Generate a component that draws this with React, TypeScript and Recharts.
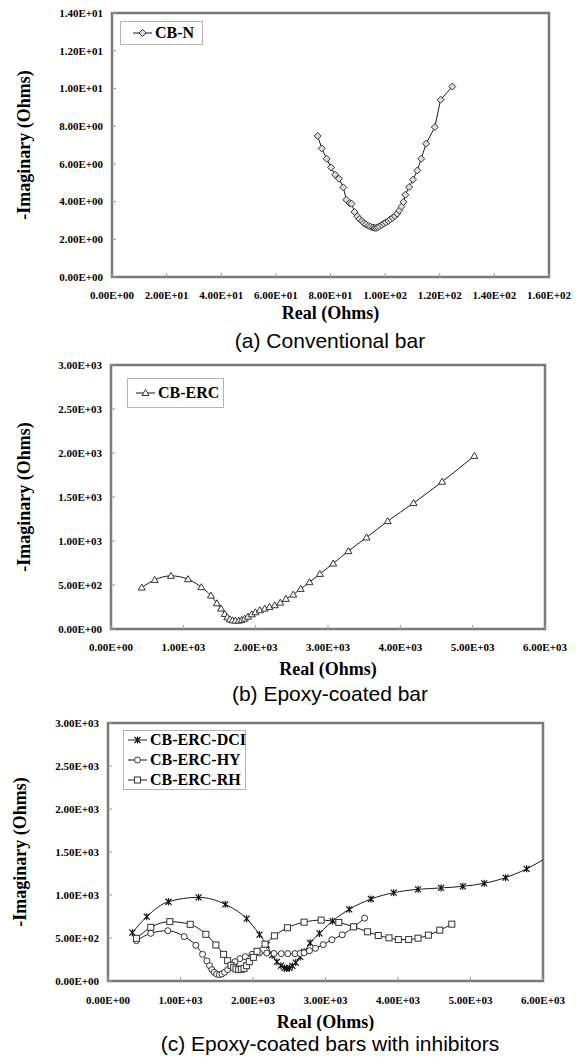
import React from 'react';
import { LineChart, Line, XAxis, YAxis, ReferenceArea } from 'recharts';

type Pt = [number, number];
type Shape = 'diamond' | 'triangle' | 'star' | 'circle' | 'square';

// (a) conventional bar, CB-N  [real, -imag] in ohms
const cbnPoints: Pt[] = [
  [75.3, 7.48], [76.8, 6.82], [78.6, 6.27], [80.2, 5.81], [81.7, 5.42], [83.1, 5.21],
  [84.7, 4.75], [85.8, 4.1], [87.0, 3.92], [87.7, 3.89], [88.8, 3.45], [89.8, 3.22],
  [90.6, 3.07], [91.5, 2.97], [92.2, 2.86], [93.0, 2.79], [93.9, 2.72], [94.6, 2.67],
  [95.5, 2.63], [96.1, 2.6], [96.7, 2.6], [97.3, 2.63], [97.9, 2.69], [98.8, 2.76],
  [99.5, 2.83], [100.3, 2.9], [101.2, 2.97], [101.9, 3.06], [102.8, 3.14], [103.6, 3.23],
  [104.4, 3.36], [105.2, 3.53], [106.0, 3.73], [106.7, 3.98], [107.4, 4.36], [108.8, 4.77],
  [110.2, 5.16], [111.8, 5.65], [113.2, 6.27], [115.0, 7.07], [118.2, 7.95], [120.3, 9.4],
  [124.6, 10.1],
];

// (b) epoxy-coated bar, CB-ERC
const cbErcPoints: Pt[] = [
  [425, 471], [604, 558], [829, 604], [1065, 566], [1249, 475], [1382, 380], [1464, 292],
  [1521, 232], [1572, 171], [1608, 133], [1644, 110], [1680, 99], [1720, 95], [1766, 95],
  [1807, 103], [1848, 118], [1894, 140], [1946, 167], [1997, 190], [2058, 213], [2125, 232],
  [2191, 251], [2263, 270], [2340, 300], [2417, 342], [2519, 391], [2622, 456], [2744, 532],
  [2888, 626], [3072, 744], [3282, 885], [3533, 1040], [3825, 1226], [4183, 1431],
  [4578, 1674], [5023, 1967],
];

// (c) epoxy-coated bars with inhibitors
const dciPoints: Pt[] = [
  [336, 562], [535, 748], [834, 922], [1249, 973], [1618, 891], [1912, 725], [2090, 540],
  [2189, 420], [2265, 300], [2330, 222], [2385, 178], [2433, 152], [2465, 144], [2502, 152],
  [2544, 175], [2590, 214], [2650, 280], [2705, 339], [2788, 444], [2917, 553], [3097, 697],
  [3327, 833], [3627, 953], [3940, 1027], [4276, 1066], [4594, 1082], [4894, 1101],
  [5189, 1136], [5484, 1202], [5774, 1304], [6080, 1450],
];
const hyPoints: Pt[] = [
  [392, 469], [590, 554], [825, 585], [1051, 516], [1212, 415], [1304, 310], [1364, 233],
  [1401, 178], [1433, 132], [1465, 101], [1498, 81], [1535, 74], [1571, 81], [1608, 101],
  [1650, 132], [1696, 174], [1751, 225], [1820, 260], [1894, 283], [1986, 310], [2088, 325],
  [2190, 325], [2290, 320], [2390, 318], [2480, 318], [2580, 318], [2650, 320], [2705, 328],
  [2779, 352], [2862, 380], [2968, 422], [3088, 480], [3230, 537], [3392, 630], [3539, 731],
];
const rhPoints: Pt[] = [
  [392, 496], [590, 624], [853, 690], [1134, 659], [1350, 543], [1488, 419], [1594, 310],
  [1650, 236], [1696, 182], [1733, 159], [1765, 140], [1802, 132], [1839, 136], [1876, 147],
  [1912, 178], [1949, 225], [2005, 275], [2055, 345], [2166, 428], [2295, 525], [2475, 619],
  [2705, 684], [2940, 708], [3184, 681], [3387, 630], [3581, 572], [3728, 529], [3876, 502],
  [4005, 482], [4147, 482], [4276, 498], [4419, 533], [4576, 591], [4742, 661],
];

const ticksAX = [0, 20, 40, 60, 80, 100, 120, 140, 160];
const ticksAY = [0, 2, 4, 6, 8, 10, 12, 14];
const ticksBCX = [0, 1000, 2000, 3000, 4000, 5000, 6000];
const ticksBCY = [0, 500, 1000, 1500, 2000, 2500, 3000];

const SERIF = "'Liberation Serif', 'Times New Roman', serif";
const SANS = "'Liberation Sans', Arial, sans-serif";
const INK = '#1a1a1a';

const fmtSci = (v: number) => {
  const [m, e] = v.toExponential(2).split('e');
  const sign = e[0] === '-' ? '-' : '+';
  return `${m}E${sign}${e.replace(/[+-]/, '').padStart(2, '0')}`;
};

const toRows = (pts: Pt[]) => pts.map(([x, y]) => ({ x, y }));

function Marker({ cx, cy, shape }: { cx: number; cy: number; shape: Shape }) {
  if (cx == null || cy == null) return null;
  const s = { stroke: '#333', strokeWidth: 1 };
  switch (shape) {
    case 'diamond':
      return <path d={`M${cx},${cy - 3.5}L${cx + 3.5},${cy}L${cx},${cy + 3.5}L${cx - 3.5},${cy}Z`} fill="#ddd" {...s} />;
    case 'triangle':
      return <path d={`M${cx},${cy - 3.5}L${cx + 3.5},${cy + 2.5}L${cx - 3.5},${cy + 2.5}Z`} fill="#fff" {...s} />;
    case 'circle':
      return <circle cx={cx} cy={cy} r={3} fill="#fff" {...s} />;
    case 'square':
      return <rect x={cx - 3} y={cy - 3} width={6} height={6} fill="#fff" {...s} />;
    default:
      return (
        <path
          d={`M${cx - 3},${cy - 3}L${cx + 3},${cy + 3}M${cx - 3},${cy + 3}L${cx + 3},${cy - 3}M${cx},${cy - 3.5}L${cx},${cy + 3.5}`}
          fill="none"
          stroke="#111"
          strokeWidth={1.2}
        />
      );
  }
}

interface Series {
  name: string;
  points: Pt[];
  shape: Shape;
}

interface PanelProps {
  chartTop: number;
  plotLeft: number;
  plotRight: number;
  plotHeight: number;
  xMax: number;
  yMax: number;
  xTicks: number[];
  yTicks: number[];
  series: Series[];
  curve: 'linear' | 'monotoneX';
  xTitleDy: number;
  yTitleX: number;
  xTickMargin: number;
  legend: { left: number; top: number; width: number; height: number; padLeft: number };
}

function Panel(p: PanelProps) {
  const tickStyle = { fontFamily: SERIF, fontWeight: 700, fontSize: 11, fill: '#000' };
  return (
    <div style={{ position: 'absolute', left: 0, top: p.chartTop }}>
      <LineChart
        width={581}
        height={10 + p.plotHeight + 50}
        margin={{ top: 10, right: 581 - p.plotRight, bottom: 0, left: 0 }}
      >
        <XAxis
          type="number"
          dataKey="x"
          domain={[0, p.xMax]}
          ticks={p.xTicks}
          interval={0}
          allowDataOverflow
          height={50}
          axisLine={false}
          tickLine={{ stroke: '#999' }}
          tickSize={-4}
          tickMargin={p.xTickMargin}
          tick={tickStyle}
          tickFormatter={fmtSci}
          label={(lp: any) => {
            const vb = lp.viewBox || {};
            return (
              <text
                x={vb.x + vb.width / 2}
                y={vb.y + p.xTitleDy}
                textAnchor="middle"
                fontFamily={SERIF}
                fontWeight={700}
                fontSize={18}
                fill="#000"
              >
                Real (Ohms)
              </text>
            );
          }}
        />
        <YAxis
          type="number"
          domain={[0, p.yMax]}
          ticks={p.yTicks}
          interval={0}
          allowDataOverflow
          width={p.plotLeft}
          axisLine={false}
          tickLine={{ stroke: '#999' }}
          tickSize={-4}
          tickMargin={13}
          tick={tickStyle}
          tickFormatter={fmtSci}
          label={(lp: any) => {
            const vb = lp.viewBox || {};
            const cy = vb.y + vb.height / 2;
            return (
              <text
                x={p.yTitleX}
                y={cy}
                transform={`rotate(-90, ${p.yTitleX}, ${cy})`}
                textAnchor="middle"
                dominantBaseline="central"
                fontFamily={SERIF}
                fontWeight={700}
                fontSize={18}
                fill="#000"
              >
                -Imaginary (Ohms)
              </text>
            );
          }}
        />
        {p.series.map((s) => (
          <Line
            key={s.name}
            data={toRows(s.points)}
            dataKey="y"
            type={p.curve}
            stroke={INK}
            strokeWidth={1}
            isAnimationActive={false}
            dot={(dp: any) => <Marker key={`${s.name}-${dp.index}`} cx={dp.cx} cy={dp.cy} shape={s.shape} />}
            activeDot={false}
          />
        ))}
        <ReferenceArea x1={0} x2={p.xMax} y1={0} y2={p.yMax} fill="none" stroke="#7a7a7a" strokeWidth={2.5} />
      </LineChart>
      <div
        style={{
          position: 'absolute',
          left: p.legend.left,
          top: p.legend.top - p.chartTop,
          width: p.legend.width,
          height: p.legend.height,
          border: '1px solid #b5b5b5',
          background: '#fff',
          boxSizing: 'border-box',
          display: 'flex',
          flexDirection: 'column',
          justifyContent: 'center',
          paddingLeft: p.legend.padLeft,
        }}
      >
        {p.series.map((s) => (
          <div key={s.name} style={{ display: 'flex', alignItems: 'center', height: 20 }}>
            <svg width={20} height={12} style={{ flex: 'none' }}>
              <line x1={0} y1={6} x2={19} y2={6} stroke={INK} strokeWidth={1} />
              <Marker cx={9.5} cy={6} shape={s.shape} />
            </svg>
            <span
              style={{
                marginLeft: 2,
                fontFamily: SERIF,
                fontWeight: 700,
                fontSize: 16,
                lineHeight: '20px',
                color: '#000',
                whiteSpace: 'nowrap',
              }}
            >
              {s.name}
            </span>
          </div>
        ))}
      </div>
    </div>
  );
}

function Caption({ text, baseline }: { text: string; baseline: number }) {
  return (
    <div
      style={{
        position: 'absolute',
        left: 0,
        width: 660,
        top: baseline - 18,
        textAlign: 'center',
        fontFamily: SANS,
        fontSize: 21,
        lineHeight: '21px',
        color: '#000',
        whiteSpace: 'nowrap',
      }}
    >
      {text}
    </div>
  );
}

export default function App() {
  return (
    <div style={{ position: 'absolute', left: 0, top: 0, width: 581, height: 1057, background: '#fff' }}>
      <Panel
        chartTop={3}
        plotLeft={112}
        plotRight={549}
        plotHeight={264}
        xMax={160}
        yMax={14}
        xTicks={ticksAX}
        yTicks={ticksAY}
        series={[{ name: 'CB-N', points: cbnPoints, shape: 'diamond' }]}
        curve="linear"
        xTitleDy={42}
        yTitleX={24}
        xTickMargin={18}
        legend={{ left: 120, top: 21, width: 83, height: 24, padLeft: 12 }}
      />
      <Caption text="(a) Conventional bar" baseline={348} />
      <Panel
        chartTop={355}
        plotLeft={111}
        plotRight={545}
        plotHeight={264}
        xMax={6000}
        yMax={3000}
        xTicks={ticksBCX}
        yTicks={ticksBCY}
        series={[{ name: 'CB-ERC', points: cbErcPoints, shape: 'triangle' }]}
        curve="monotoneX"
        xTitleDy={46}
        yTitleX={24}
        xTickMargin={18}
        legend={{ left: 127, top: 378, width: 97, height: 30, padLeft: 8 }}
      />
      <Caption text="(b) Epoxy-coated bar" baseline={701} />
      <Panel
        chartTop={713}
        plotLeft={108}
        plotRight={543}
        plotHeight={258}
        xMax={6000}
        yMax={3000}
        xTicks={ticksBCX}
        yTicks={ticksBCY}
        series={[
          { name: 'CB-ERC-DCI', points: dciPoints, shape: 'star' },
          { name: 'CB-ERC-HY', points: hyPoints, shape: 'circle' },
          { name: 'CB-ERC-RH', points: rhPoints, shape: 'square' },
        ]}
        curve="monotoneX"
        xTitleDy={47}
        yTitleX={20}
        xTickMargin={19}
        legend={{ left: 123, top: 730, width: 123, height: 60, padLeft: 4 }}
      />
      <Caption text="(c) Epoxy-coated bars with inhibitors" baseline={1051} />
    </div>
  );
}
